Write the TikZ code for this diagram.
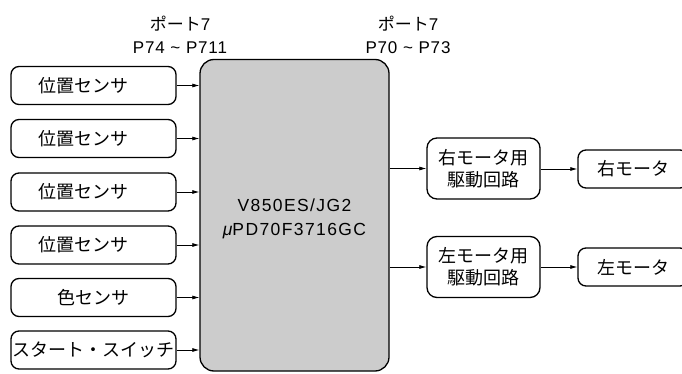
\documentclass[tikz,border=0pt]{standalone}
\usepackage{fontspec}
\setmainfont{Liberation Sans}
\newfontfamily\cjk{Noto Sans CJK JP}
\usetikzlibrary{arrows.meta}
\begin{document}
\begin{tikzpicture}[x=1pt,y=-1pt,
  box/.style={draw, line width=1.3pt, rounded corners=8pt, minimum width=165pt, minimum height=38pt, inner sep=0pt, font=\cjk\fontsize{18}{21}\selectfont},
  drv/.style={draw, line width=1.3pt, rounded corners=10pt, minimum width=113pt, minimum height=61pt, inner sep=0pt, align=center, font=\cjk\fontsize{18}{22}\selectfont},
  mot/.style={draw, line width=1.3pt, rounded corners=8pt, minimum width=110pt, minimum height=38pt, inner sep=0pt, font=\cjk\fontsize{18}{21}\selectfont},
  mainbox/.style={draw, line width=1.3pt, rounded corners=14pt, fill=black!20, minimum width=189pt, minimum height=311.5pt, inner sep=0pt},
  lbl/.style={align=center, inner sep=0pt, font=\fontsize{17}{23}\selectfont},
  arr/.style={-{Latex[length=7pt,width=4pt]}, line width=0.7pt}]
\useasboundingbox (0,0) rectangle (682,374);
\clip (0,0) rectangle (682,374);
% top labels
\node[lbl] (pl) at (180,35) {{\cjk ポート}7\\\addfontfeature{LetterSpace=5}P74 \textasciitilde{} P711};
\node[lbl] (pr) at (408,35) {{\cjk ポート}7\\\addfontfeature{LetterSpace=5}P70 \textasciitilde{} P73};
% main box
\node[mainbox] (m) at (294.5,215.25) {};
\node[align=center, inner sep=0pt, font=\fontsize{17.5}{24}\selectfont\addfontfeature{LetterSpace=8}] (mt) at (294.5,219) {V850ES/JG2\\{\itshape μ}PD70F3716GC};
% sensors
\node[box] (s1) at (93.5,85.5) {\hspace*{-20pt}位置センサ};
\node[box] (s2) at (93.5,138.5) {\hspace*{-20pt}位置センサ};
\node[box] (s3) at (93.5,192) {\hspace*{-20pt}位置センサ};
\node[box] (s4) at (93.5,245) {\hspace*{-20pt}位置センサ};
\node[box] (s5) at (93.5,297.5) {色センサ};
\node[box] (s6) at (93.5,350) {スタート・スイッチ};
\foreach \n in {s1,s2,s3,s4,s5,s6} \draw[arr] (\n.east) -- (\n.east -| m.west);
% drivers
\node[drv] (d1) at (483.5,168.5) {右モータ用\\駆動回路};
\node[drv] (d2) at (483.5,267) {左モータ用\\駆動回路};
\node[mot] (r1) at (633,169) {右モータ};
\node[mot] (r2) at (633,267) {左モータ};
\draw[arr] (m.east |- d1.west) -- (d1.west);
\draw[arr] (m.east |- d2.west) -- (d2.west);
\draw[arr] (d1.east |- r1.west) -- (r1.west);
\draw[arr] (d2.east |- r2.west) -- (r2.west);
\end{tikzpicture}
\end{document}
